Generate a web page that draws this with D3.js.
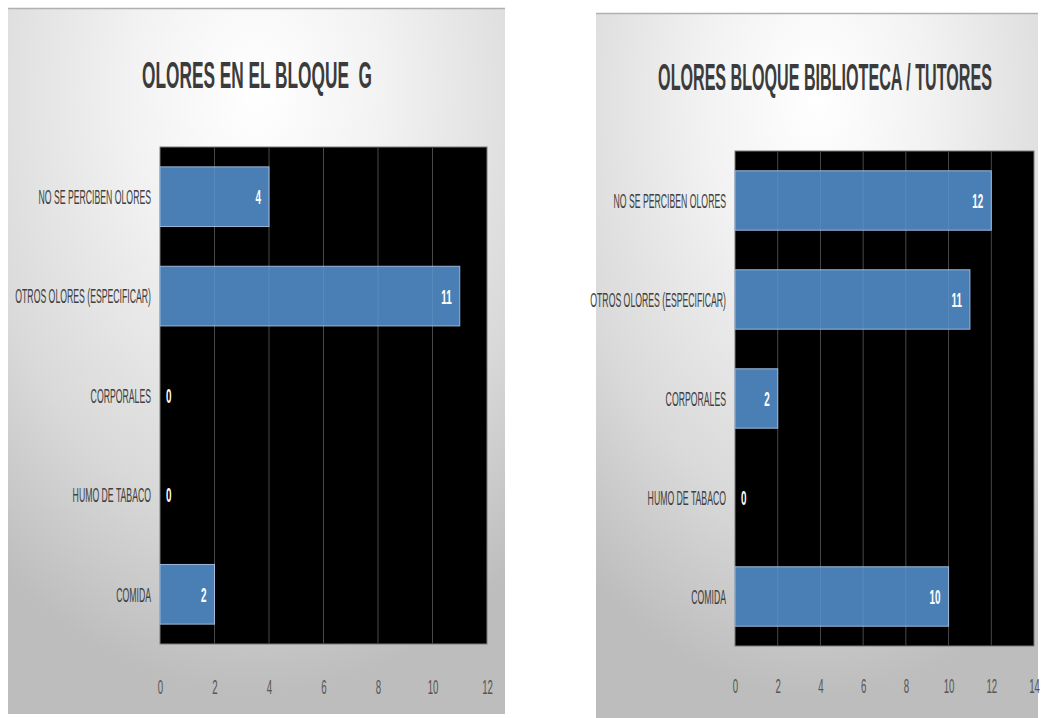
<!DOCTYPE html>
<html><head><meta charset="utf-8">
<script src="https://cdn.jsdelivr.net/npm/d3@7"></script>
<style>
html,body{margin:0;padding:0;background:#fff;}
svg{display:block;}
text{font-family:"Liberation Sans",Arial,sans-serif;}
</style></head>
<body>
<svg id="chart" width="1042" height="718"></svg>
<script>
const categories = ["NO SE PERCIBEN OLORES","OTROS OLORES (ESPECIFICAR)","CORPORALES","HUMO DE TABACO","COMIDA"];
const valuesBloqueG = [4, 11, 0, 0, 2];
const valuesBiblioteca = [12, 11, 2, 0, 10];
const ticksBloqueG = [0, 2, 4, 6, 8, 10, 12];
const ticksBiblioteca = [0, 2, 4, 6, 8, 10, 12, 14];
const titleBloqueG = "OLORES EN EL BLOQUE  G";
const titleBiblioteca = "OLORES BLOQUE BIBLIOTECA / TUTORES";

const svg = d3.select("#chart");
const defs = svg.append("defs");
const grad = defs.append("radialGradient").attr("id","bg")
  .attr("cx","50%").attr("cy","12%").attr("r","85%").attr("fx","50%").attr("fy","12%");
grad.append("stop").attr("offset","0%").attr("stop-color","#ffffff");
grad.append("stop").attr("offset","30%").attr("stop-color","#f2f2f2");
grad.append("stop").attr("offset","70%").attr("stop-color","#d9d9d9");
grad.append("stop").attr("offset","100%").attr("stop-color","#bdbdbd");

function drawPanel(cfg){
  const g = svg.append("g");
  g.append("rect").attr("x",cfg.px).attr("y",cfg.py).attr("width",cfg.pw).attr("height",cfg.ph)
    .attr("fill","url(#bg)");
  g.append("line").attr("x1",cfg.px).attr("x2",cfg.px+cfg.pw).attr("y1",cfg.py+0.5).attr("y2",cfg.py+0.5)
    .attr("stroke","#b0b0b0").attr("stroke-width",1.5);

  const title = g.append("text").attr("text-anchor","middle")
    .attr("font-size",36).attr("font-weight","bold").attr("fill","#3b3b3b")
    .style("white-space","pre").text(cfg.title);
  const natural = title.node().getComputedTextLength();
  title.attr("transform",`translate(${cfg.tx},${cfg.ty}) scale(${cfg.tw/natural},1)`);

  const x = d3.scaleLinear().domain([0, d3.max(cfg.ticks)]).range([cfg.x0, cfg.x1]);
  const y = d3.scaleBand().domain(categories).range([cfg.y0, cfg.y1]).paddingInner(0.4).paddingOuter(0.2);

  g.append("rect").attr("x",cfg.x0).attr("y",cfg.y0).attr("width",cfg.x1-cfg.x0).attr("height",cfg.y1-cfg.y0)
    .attr("fill","#000").attr("stroke","#7a7a7a").attr("stroke-width",1);

  g.append("g").selectAll("line").data(cfg.ticks.slice(1,-1)).join("line")
    .attr("x1",d=>x(d)).attr("x2",d=>x(d)).attr("y1",cfg.y0).attr("y2",cfg.y1)
    .attr("stroke","#3a3a3a").attr("stroke-width",1);

  const data = categories.map((c,i)=>({c, v: cfg.values[i]}));
  g.append("g").selectAll("rect").data(data.filter(d=>d.v>0)).join("rect")
    .attr("x",x(0)).attr("y",d=>y(d.c)).attr("width",d=>x(d.v)-x(0)).attr("height",y.bandwidth())
    .attr("fill","#4a7fb6").attr("stroke","#9bb7d9").attr("stroke-width",1);

  g.append("g").selectAll("line").data(cfg.ticks.slice(1,-1)).join("line")
    .attr("x1",d=>x(d)).attr("x2",d=>x(d)).attr("y1",cfg.y0).attr("y2",cfg.y1)
    .attr("stroke","#ffffff").attr("stroke-opacity",0.08).attr("stroke-width",1);

  g.append("g").selectAll("text").data(data).join("text")
    .attr("transform",d=>{
      const yy = y(d.c)+y.bandwidth()/2;
      const xx = d.v>0 ? x(d.v)-8 : x(0)+6;
      return `translate(${xx},${yy}) scale(0.47,1)`;
    })
    .attr("text-anchor",d=>d.v>0?"end":"start").attr("dy","0.36em")
    .attr("font-size",21).attr("font-weight","bold").attr("fill","#ffffff").text(d=>d.v);

  const yAxis = g.append("g").attr("transform",`translate(${cfg.x0},0)`)
    .call(d3.axisLeft(y).tickSize(0).tickPadding(0));
  yAxis.select(".domain").remove();
  yAxis.selectAll("text").attr("x",null).attr("dy","0.36em")
    .attr("transform","translate(-9,0) scale(0.435,1)")
    .attr("font-size",20).attr("fill","#404040").style("font-family","'Liberation Sans',Arial,sans-serif");

  const xAxis = g.append("g").attr("transform",`translate(0,${cfg.y1})`)
    .call(d3.axisBottom(x).tickValues(cfg.ticks).tickSize(0).tickPadding(0));
  xAxis.select(".domain").remove();
  xAxis.selectAll("text").attr("y",cfg.tickY-cfg.y1).attr("dy","0.36em")
    .attr("transform","scale(0.46,1)")
    .attr("font-size",21).attr("fill","#555").style("font-family","'Liberation Sans',Arial,sans-serif");
}

drawPanel({px:8, py:8, pw:497, ph:706, title:titleBloqueG, tx:257, ty:88, tw:230,
  x0:160, x1:487, y0:147, y1:644, tickY:686, ticks:ticksBloqueG, values:valuesBloqueG});
drawPanel({px:596, py:13, pw:442, ph:705, title:titleBiblioteca, tx:825, ty:90, tw:334,
  x0:735, x1:1034, y0:151, y1:646, tickY:685, ticks:ticksBiblioteca, values:valuesBiblioteca});
</script>
</body></html>
